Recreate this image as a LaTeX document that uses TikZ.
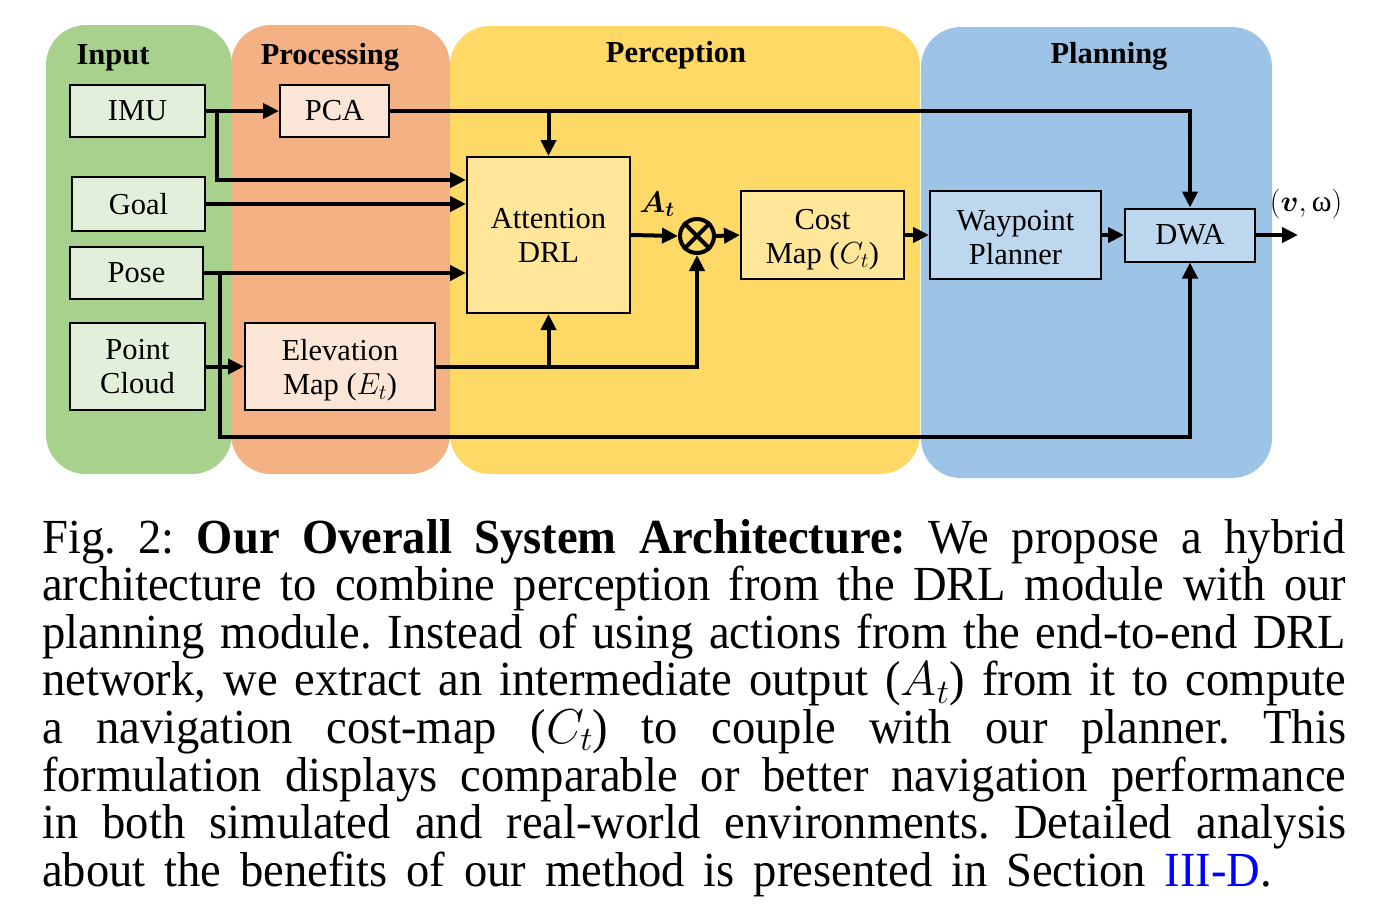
\documentclass[tikz,border=0pt]{standalone}
\usepackage{fix-cm}
\usepackage{amsmath}
\usepackage{fontspec}
\setmainfont{Liberation Serif}
\newfontfamily\capfont[FakeStretch=0.95]{Liberation Serif}
\usetikzlibrary{arrows.meta}
\definecolor{pgreen}{HTML}{A9D18E}
\definecolor{porange}{HTML}{F4B183}
\definecolor{pyellow}{HTML}{FFD966}
\definecolor{pblue}{HTML}{9DC3E6}
\definecolor{bgreen}{HTML}{E2EFDA}
\definecolor{borange}{HTML}{FBE5D6}
\definecolor{byellow}{HTML}{FFE699}
\definecolor{bblue}{HTML}{BDD7EE}
\definecolor{linkblue}{HTML}{0000FF}
\tikzset{
  panel/.style={rounded corners=40pt},
  box/.style={draw=black, line width=2pt, inner sep=0pt, align=center,
    font=\fontsize{30.5}{34}\selectfont},
  conn/.style={line width=4pt, -{Triangle[length=16pt,width=15pt]}},
  ttl/.style={font=\bfseries\fontsize{30.5}{34}\selectfont, anchor=base},
  lbl/.style={font=\fontsize{30}{34}\selectfont, inner sep=0pt},
}
\begin{document}
\begin{tikzpicture}[x=1pt,y=-1pt]
\useasboundingbox (0,0) rectangle (1390,922);
% panels
\fill[pgreen, panel] (46,25) rectangle (232,474);
\fill[porange, panel] (231,25) rectangle (450,474);
\fill[pyellow, panel] (450,26) rectangle (920,474);
\fill[pblue, panel] (921,27) rectangle (1272,478);
% titles
\node[ttl] (tin) at (113,64) {Input};
\node[ttl] (tpr) at (330,64) {Processing};
\node[ttl] (tpe) at (676,62) {Perception};
\node[ttl] (tpl) at (1109,63) {Planning};
% boxes
\node[box, fill=bgreen, minimum width=135pt, minimum height=52pt] (imu) at (137.5,111) {IMU};
\node[box, fill=bgreen, minimum width=133pt, minimum height=54pt] (goal) at (138.5,204) {Goal};
\node[box, fill=bgreen, minimum width=133pt, minimum height=52pt] (pose) at (136.5,273) {Pose};
\node[box, fill=bgreen, minimum width=135pt, minimum height=87pt] (pc) at (137.5,366.5) {Point\\Cloud};
\node[box, fill=borange, minimum width=109pt, minimum height=52pt] (pca) at (334.5,111) {PCA};
\node[box, fill=borange, minimum width=190pt, minimum height=87pt] (elev) at (340,366.5) {\rule{0pt}{29pt}Elevation\\Map \smash{($E_t$)}};
\node[box, fill=byellow, minimum width=163pt, minimum height=156pt] (att) at (548.5,235) {Attention\\DRL};
\node[box, fill=byellow, minimum width=163pt, minimum height=88pt] (cost) at (822.5,235) {\rule{0pt}{29pt}Cost\\Map \smash{($C_t$)}};
\node[box, fill=bblue, minimum width=171pt, minimum height=88pt] (wp) at (1015.5,235) {\rule{0pt}{25pt}Waypoint\\Planner};
\node[box, fill=bblue, minimum width=130pt, minimum height=53pt] (dwa) at (1190,235) {DWA};
\node[circle, draw=black, line width=4pt, minimum size=34pt, inner sep=0pt] (ot) at (697,236) {};
\draw[line width=4pt] (ot.north west) -- (ot.south east) (ot.north east) -- (ot.south west);
% coordinates
\coordinate (b1) at (217,111);
\coordinate (b2) at (217,180);
\coordinate (p1) at (220,273);
\coordinate (p2) at (220,437);
\coordinate (out) at (1298,235);
% connectors
\draw[conn] (imu.east) -- (pca.west);
\draw[conn] (b1) -- (b2) -- (att.west |- b2);
\draw[conn] (goal.east) -- (att.west |- goal.east);
\draw[conn] (pose.east) -- (att.west |- pose.east);
\draw[conn] (p1) -- (p2) -| (dwa.south);
\draw[conn] (pca.east) -| (dwa.north);
\draw[conn] (att.north |- pca.east) -- (att.north);
\draw[conn] (pc.east) -- (elev.west);
\draw[conn] (elev.east) -| (ot.south);
\draw[conn] (att.south |- elev.east) -- (att.south);
\draw[conn] (att.east) -- (ot.west);
\draw[conn] (ot.east) -- (cost.west);
\draw[conn] (cost.east) -- (wp.west);
\draw[conn] (wp.east) -- (dwa.west);
\draw[conn] (dwa.east) -- (out);
% labels
\node[lbl] (at) at (657,204) {$\boldsymbol{A_t}$};
\node[lbl] (vw) at (1306,204) {$(\boldsymbol{v},$\,ω$)$};
% caption
\node[anchor=base west, inner sep=0pt, text width=1304pt, align=justify,
  font=\capfont\fontsize{49}{47.6}\selectfont\frenchspacing] (cap) at (42,553) {%
\hbox to 1304pt{Fig.\ 2: \textbf{Our Overall System Architecture:} We propose a hybrid}
\hbox to 1304pt{architecture to combine perception from the DRL module with our}
\hbox to 1304pt{planning module. Instead of using actions from the end-to-end DRL}
\hbox to 1304pt{network, we extract an intermediate output ($A_t$) from it to compute}
\hbox to 1304pt{a navigation cost-map ($C_t$) to couple with our planner. This}
\hbox to 1304pt{formulation displays comparable or better navigation performance}
\hbox to 1304pt{in both simulated and real-world environments. Detailed analysis}
\hbox to 1230pt{about the benefits of our method is presented in Section \textcolor{linkblue}{III-D}.}};
\end{tikzpicture}
\end{document}
